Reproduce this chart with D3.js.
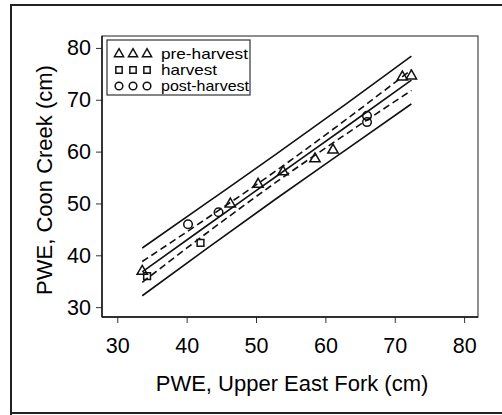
<!DOCTYPE html>
<html>
<head>
<meta charset="utf-8">
<script src="https://cdn.jsdelivr.net/npm/d3@7"></script>
<style>
  body { margin:0; background:#fff; }
  svg { display:block; font-family:"Liberation Sans", Arial, sans-serif; }
</style>
</head>
<body>
<svg id="chart" width="502" height="415"></svg>
<script>
// values
var preX  = [33.6, 46.3, 50.3, 53.9, 58.5, 61.1, 71.1, 72.4];
var preY  = [36.9, 49.9, 53.7, 56.1, 58.6, 60.3, 74.4, 74.6];
var harvX = [34.3, 42.0];
var harvY = [36.0, 42.4];
var postX = [40.2, 44.6, 66.0, 66.0];
var postY = [46.0, 48.3, 66.9, 65.7];

// fitted line and bands, read at a few x positions
var fitX   = [33.6, 43, 53, 63, 72.4];
var fitY   = [36.8, 45.8, 55.3, 64.8, 73.8];
var confLo = [34.8, 44.4, 54.2, 63.4, 71.8];
var confHi = [38.8, 47.2, 56.4, 66.2, 75.8];
var predLo = [32.2, 41.4, 51.0, 60.4, 69.2];
var predHi = [41.4, 50.2, 59.6, 69.2, 78.4];

var xTicks = [30, 40, 50, 60, 70, 80];
var yTicks = [30, 40, 50, 60, 70, 80];
var legendLabels = ["pre-harvest", "harvest", "post-harvest"];

var svg = d3.select("#chart");

//plot box
var box = {left:102, right:478, top:36, bottom:317};

var xScale = d3.scaleLinear().domain([27.8, 82.0]).range([box.left, box.right]);
var yScale = d3.scaleLinear().domain([28.1, 82.3]).range([box.bottom, box.top]);

// page border (scanned figure frame)
svg.append("line").attr("x1",10).attr("x2",502).attr("y1",5).attr("y2",5)
    .attr("stroke","#222").attr("stroke-width",2);
svg.append("line").attr("x1",11).attr("x2",11).attr("y1",4).attr("y2",415)
    .attr("stroke","#222").attr("stroke-width",2);
svg.append("line").attr("x1",10).attr("x2",502).attr("y1",413).attr("y2",413)
    .attr("stroke","#222").attr("stroke-width",2);

// frame
svg.append("rect")
    .attr("x",box.left).attr("y",box.top)
    .attr("width",box.right-box.left).attr("height",box.bottom-box.top)
    .attr("fill","none").attr("stroke","#444").attr("stroke-width",1.2);

// axes
var yAxis = svg.append("g")
    .attr("transform","translate("+box.left+",0)")
    .call(d3.axisLeft(yScale).tickValues(yTicks).tickSize(6).tickPadding(5));
var xAxis = svg.append("g")
    .attr("transform","translate(0,"+box.bottom+")")
    .call(d3.axisBottom(xScale).tickValues(xTicks).tickSize(6).tickPadding(15));

[xAxis, yAxis].forEach(function(ax)
{
    ax.select(".domain").remove();
    ax.selectAll("line").attr("stroke","#333").attr("stroke-width",1);
    ax.selectAll("text").attr("font-size",21.5).attr("fill","#000")
        .attr("font-family","Liberation Sans, Arial, sans-serif");
});
xAxis.append("line").attr("x1",box.left).attr("x2",box.right)
    .attr("stroke","#111").attr("stroke-width",1.6);
yAxis.append("line").attr("y1",box.top).attr("y2",box.bottom)
    .attr("stroke","#111").attr("stroke-width",1.4);

// axis titles
svg.append("text")
    .attr("x",292).attr("y",391)
    .attr("text-anchor","middle")
    .attr("font-size",22).attr("fill","#000")
    .text("PWE, Upper East Fork (cm)");

svg.append("text")
    .attr("transform","translate(52,180) rotate(-90)")
    .attr("text-anchor","middle")
    .attr("font-size",22).attr("fill","#000")
    .text("PWE, Coon Creek (cm)");

// regression lines
var lineGen = function(ys)
{
    return d3.line()
        .x(function(d,i){ return xScale(fitX[i]); })
        .y(function(d){ return yScale(d); })
        .curve(d3.curveMonotoneX)(ys);
};

var bands = [
    {ys:predHi, dash:null},
    {ys:confHi, dash:"7,4"},
    {ys:fitY,   dash:null},
    {ys:confLo, dash:"7,4"},
    {ys:predLo, dash:null}
];

svg.append("g").selectAll("path")
    .data(bands)
    .enter()
    .append("path")
    .attr("d",function(b){ return lineGen(b.ys); })
    .attr("fill","none")
    .attr("stroke","#111")
    .attr("stroke-width",1.6)
    .attr("stroke-dasharray",function(b){ return b.dash; });

// points
var pts = function(xs,ys){ return xs.map(function(x,i){ return [x, ys[i]]; }); };

var series = [
    {data:pts(preX,preY),   type:d3.symbolTriangle, size:46},
    {data:pts(harvX,harvY), type:d3.symbolSquare,   size:46},
    {data:pts(postX,postY), type:d3.symbolCircle,   size:58}
];

series.forEach(function(s)
{
    svg.append("g").selectAll("path")
        .data(s.data)
        .enter()
        .append("path")
        .attr("d",d3.symbol().type(s.type).size(s.size))
        .attr("transform",function(d)
        {
            return "translate("+xScale(d[0])+","+yScale(d[1])+")";
        })
        .attr("fill","none")
        .attr("stroke","#111")
        .attr("stroke-width",1.5);
});

// legend
var legend = svg.append("g");
legend.append("rect")
    .attr("x",107).attr("y",40).attr("width",143).attr("height",55)
    .attr("fill","#fff").attr("stroke","#333").attr("stroke-width",1.2);

var legendSyms = [d3.symbolTriangle, d3.symbolSquare, d3.symbolCircle];
var legendSizes = [36, 40, 46];
var legendWidths = [87, 56, 88];

legendLabels.forEach(function(label,i)
{
    var cy = 54 + i*16;
    [119, 133, 147].forEach(function(cx)
    {
        legend.append("path")
            .attr("d",d3.symbol().type(legendSyms[i]).size(legendSizes[i]))
            .attr("transform","translate("+cx+","+cy+")")
            .attr("fill","none").attr("stroke","#111").attr("stroke-width",1.5);
    });
    legend.append("text")
        .attr("x",161).attr("y",cy+5)
        .attr("font-size",15).attr("fill","#000")
        .attr("textLength",legendWidths[i])
        .attr("lengthAdjust","spacingAndGlyphs")
        .text(label);
});
</script>
</body>
</html>
